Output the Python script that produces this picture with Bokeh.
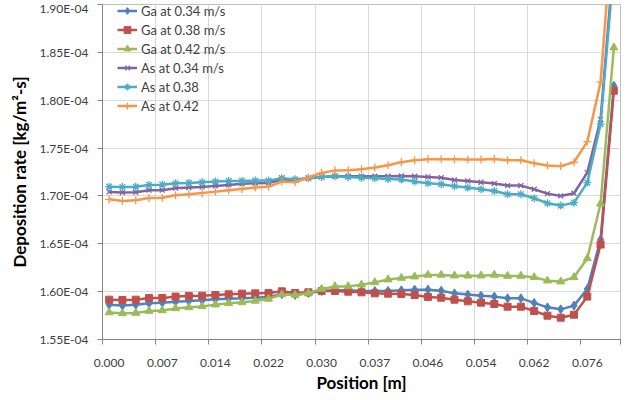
import numpy as np
from bokeh.plotting import figure
from bokeh.models import Range1d, FixedTicker, CustomJSTickFormatter, Legend, LegendItem
from bokeh.embed import file_html
from bokeh.resources import INLINE

# ---------------- data (deposition rate, units of 1e-4 kg/m2-s) ----------------
position_labels = ["0.000", "0.007", "0.014", "0.022", "0.030",
                   "0.037", "0.046", "0.054", "0.062", "0.076"]
label_every = 4
n_points = 39
index = list(range(n_points))

ga_034 = [1.5864, 1.5854, 1.5864, 1.5878, 1.5885, 1.5895, 1.5903, 1.5909, 1.5920, 1.5927,
          1.5930, 1.5937, 1.5945, 1.5974, 1.5965, 1.5986, 1.6007, 1.6014, 1.6014, 1.6007,
          1.6007, 1.6007, 1.6014, 1.6021, 1.6021, 1.6010, 1.5982, 1.5969, 1.5958, 1.5948,
          1.5930, 1.5930, 1.5882, 1.5836, 1.5815, 1.5854, 1.6028, 1.6544, 1.8150]
ga_038 = [1.5916, 1.5913, 1.5916, 1.5934, 1.5934, 1.5948, 1.5955, 1.5958, 1.5965, 1.5972,
          1.5979, 1.5982, 1.5986, 1.6003, 1.5986, 1.5993, 1.6007, 1.6007, 1.6000, 1.5993,
          1.5982, 1.5979, 1.5976, 1.5965, 1.5945, 1.5937, 1.5916, 1.5899, 1.5885, 1.5871,
          1.5843, 1.5843, 1.5798, 1.5749, 1.5728, 1.5759, 1.5948, 1.6492, 1.8100]
ga_042 = [1.5783, 1.5773, 1.5777, 1.5798, 1.5804, 1.5825, 1.5836, 1.5846, 1.5864, 1.5878,
          1.5888, 1.5903, 1.5924, 1.5970, 1.5965, 1.5986, 1.6028, 1.6055, 1.6055, 1.6073,
          1.6097, 1.6126, 1.6143, 1.6157, 1.6175, 1.6175, 1.6167, 1.6167, 1.6167, 1.6175,
          1.6164, 1.6164, 1.6150, 1.6115, 1.6105, 1.6150, 1.6348, 1.6918, 1.8550]
as_034 = [1.7042, 1.7035, 1.7039, 1.7060, 1.7060, 1.7081, 1.7087, 1.7094, 1.7105, 1.7115,
          1.7126, 1.7133, 1.7136, 1.7170, 1.7164, 1.7185, 1.7199, 1.7206, 1.7206, 1.7206,
          1.7206, 1.7206, 1.7209, 1.7206, 1.7199, 1.7191, 1.7167, 1.7157, 1.7143, 1.7129,
          1.7108, 1.7108, 1.7070, 1.7024, 1.7000, 1.7028, 1.7244, 1.7800, 1.9500]
as_038 = [1.7097, 1.7094, 1.7097, 1.7115, 1.7118, 1.7133, 1.7136, 1.7143, 1.7150, 1.7157,
          1.7157, 1.7160, 1.7160, 1.7186, 1.7175, 1.7185, 1.7199, 1.7206, 1.7199, 1.7191,
          1.7185, 1.7178, 1.7171, 1.7150, 1.7133, 1.7122, 1.7101, 1.7087, 1.7070, 1.7052,
          1.7018, 1.7018, 1.6976, 1.6924, 1.6899, 1.6930, 1.7139, 1.7750, 1.9400]
as_042 = [1.6965, 1.6948, 1.6955, 1.6979, 1.6982, 1.7007, 1.7018, 1.7031, 1.7045, 1.7060,
          1.7073, 1.7087, 1.7097, 1.7150, 1.7143, 1.7192, 1.7241, 1.7265, 1.7269, 1.7279,
          1.7296, 1.7321, 1.7353, 1.7373, 1.7384, 1.7384, 1.7384, 1.7380, 1.7380, 1.7387,
          1.7373, 1.7373, 1.7342, 1.7317, 1.7311, 1.7353, 1.7568, 1.8189, 2.0000]
unit = 1e-4
y_ticks_e4 = [1.55, 1.60, 1.65, 1.70, 1.75, 1.80, 1.85, 1.90]

series = [
    ("Ga at 0.34 m/s", ga_034, "#4F81BD", "diamond", 9),
    ("Ga at 0.38 m/s", ga_038, "#C0504D", "square", 7),
    ("Ga at 0.42 m/s", ga_042, "#9BBB59", "triangle", 8),
    ("As at 0.34 m/s", as_034, "#8064A2", "x", 7),
    ("As at 0.38", as_038, "#4BACC6", "asterisk", 8),
    ("As at 0.42", as_042, "#F79646", "cross", 8),
]

FONT = "Lato"

p = figure(width=636, height=400, output_backend="svg", toolbar_location=None,
           x_range=Range1d(-0.5, n_points - 0.5),
           y_range=Range1d(y_ticks_e4[0] * unit, y_ticks_e4[-1] * unit),
           min_border_left=102, min_border_right=16, min_border_top=4, min_border_bottom=61)
p.background_fill_color = "white"
p.border_fill_color = "white"
p.outline_line_color = "#BFBFBF"

items = []
for name, vals, color, marker, size in series:
    y = np.array(vals) * unit
    lr = p.line(index, y, line_color=color, line_width=2.5)
    if marker in ("x", "asterisk", "cross"):
        sr = p.scatter(index, y, marker=marker, size=size, line_color=color, line_width=1.3,
                       fill_color=color)
    else:
        sr = p.scatter(index, y, marker=marker, size=size, line_color=color, fill_color=color)
    items.append(LegendItem(label=name, renderers=[lr, sr]))

# x axis (category style)
label_pos = [i * label_every for i in range(len(position_labels))]
bounds = [i - 0.5 for i in range(0, n_points + 1, label_every)] + [n_points - 0.5]
p.xaxis.ticker = FixedTicker(ticks=label_pos, minor_ticks=bounds)
p.xaxis.major_label_overrides = {k: v for k, v in zip(label_pos, position_labels)}
p.xaxis.major_tick_line_alpha = 0
p.xaxis.major_tick_out = 5
p.xaxis.major_tick_in = 0
p.xaxis.minor_tick_out = 5
p.xaxis.minor_tick_in = 0
p.xaxis.minor_tick_line_color = "#868686"
p.xaxis.axis_line_color = "#868686"
p.xaxis.major_label_standoff = 14
p.xaxis.axis_label = "Position [m]"
p.xaxis.axis_label_standoff = 2

# y axis
p.yaxis.ticker = FixedTicker(ticks=[t * unit for t in y_ticks_e4])
p.yaxis.formatter = CustomJSTickFormatter(code="""
const s = tick.toExponential(2);
const parts = s.split('e');
const e = parseInt(parts[1]);
const sign = e < 0 ? '-' : '+';
const d = String(Math.abs(e)).padStart(2, '0');
return parts[0] + 'E' + sign + d;
""")
p.yaxis.axis_line_color = "#868686"
p.yaxis.major_tick_line_color = "#868686"
p.yaxis.major_tick_out = 5
p.yaxis.major_tick_in = 0
p.yaxis.minor_tick_line_color = None
p.yaxis.major_label_standoff = 9
p.yaxis.axis_label = "Deposition rate [kg/m\u00b2-s]"
p.yaxis.axis_label_standoff = 6

for ax in (p.xaxis, p.yaxis):
    ax.major_label_text_font = FONT
    ax.major_label_text_font_size = "12px"
    ax.major_label_text_color = "#404040"
    ax.axis_label_text_font = FONT
    ax.axis_label_text_font_size = "17px"
    ax.axis_label_text_font_style = "bold"
    ax.axis_label_text_color = "#000000"

p.xgrid.ticker = FixedTicker(ticks=bounds[1:-2])
p.xgrid.grid_line_color = "#D9D9D9"
p.ygrid.grid_line_color = "#D9D9D9"

legend = Legend(items=items, location=(15, 225))
legend.border_line_color = None
legend.background_fill_alpha = 0
legend.padding = 0
legend.margin = 0
legend.spacing = 2
legend.label_height = 17
legend.glyph_height = 17
legend.glyph_width = 20
legend.label_standoff = 4
legend.label_text_font = FONT
legend.label_text_font_size = "13px"
legend.label_text_color = "#404040"
p.add_layout(legend)

open("out.html", "w").write(file_html(p, INLINE))
